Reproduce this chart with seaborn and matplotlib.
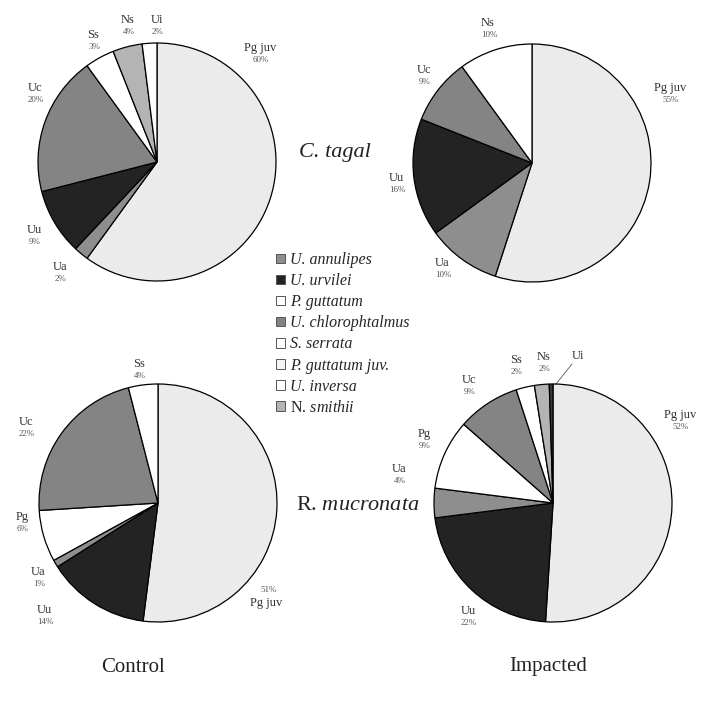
import matplotlib
matplotlib.use("Agg")
import matplotlib.pyplot as plt
from matplotlib.patches import Patch
import seaborn as sns

sns.set_style("white")
plt.rcParams["font.family"] = ["Liberation Serif", "DejaVu Serif"]
plt.rcParams["mathtext.fontset"] = "custom"
plt.rcParams["mathtext.rm"] = "Liberation Serif"
plt.rcParams["mathtext.it"] = "Liberation Serif:italic"

# C. tagal, control
tc_names = ["Pg juv", "Ua", "Uu", "Uc", "Ss", "Ns", "Ui"]
tc_values = [60, 2, 9, 19, 4, 4, 2]
tc_pct = ["60%", "2%", "9%", "20%", "3%", "4%", "2%"]

# C. tagal, impacted
ti_names = ["Pg juv", "Ua", "Uu", "Uc", "Ns"]
ti_values = [55, 10, 16, 9, 10]
ti_pct = ["55%", "10%", "16%", "9%", "10%"]

# R. mucronata, control
rc_names = ["Pg juv", "Uu", "Ua", "Pg", "Uc", "Ss"]
rc_values = [52, 14, 1, 7, 22, 4]
rc_pct = ["51%", "14%", "1%", "6%", "22%", "4%"]

# R. mucronata, impacted
ri_names = ["Pg juv", "Uu", "Ua", "Pg", "Uc", "Ss", "Ns", "Ui"]
ri_values = [51, 22, 4, 9.5, 8.5, 2.5, 2, 0.5]
ri_pct = ["52%", "22%", "4%", "9%", "9%", "2%", "2%", ""]

legend_labels = ["U. annulipes", "U. urvilei", "P. guttatum", "U. chlorophtalmus",
                 "S. serrata", "P. guttatum juv.", "U. inversa", r"$\mathrm{N.}\,\mathit{smithii}$"]

# ---- style / layout ----
W, H = 702, 704
R = 119
grey_a, grey_c, dark, light, ns_grey = "#8e8e8e", "#848484", "#232323", "#ebebeb", "#b4b4b4"
legend_colors = [grey_a, dark, "white", grey_c, "white", "#f4f4f4", "white", ns_grey]

pies = [
    dict(c=(157, 162), v=tc_values, n=tc_names, p=tc_pct,
         col=[light, grey_a, dark, grey_c, "white", ns_grey, "white"],
         pos=[(260, 48), (60, 267), (34, 230), (35, 88), (93, 35), (128, 20), (157, 20)]),
    dict(c=(532, 163), v=ti_values, n=ti_names, p=ti_pct,
         col=[light, grey_a, dark, grey_c, "white"],
         pos=[(670, 88), (442, 263), (396, 178), (424, 70), (488, 23)]),
    dict(c=(158, 503), v=rc_values, n=rc_names, p=rc_pct,
         col=[light, dark, grey_a, "white", grey_c, "white"],
         pos=[(266, 603), (44, 610), (38, 572), (22, 517), (26, 422), (139, 364)]),
    dict(c=(553, 503), v=ri_values, n=ri_names, p=ri_pct,
         col=[light, dark, grey_a, "white", grey_c, "white", ns_grey, "#3a3a3a"],
         pos=[(680, 415), (468, 611), (399, 469), (424, 434), (469, 380), (516, 360), (544, 357), (578, 356)]),
]

fig = plt.figure(figsize=(W / 100, H / 100), dpi=100)
bg = fig.add_axes([0, 0, 1, 1])
bg.set_xlim(0, W)
bg.set_ylim(H, 0)
bg.axis("off")

pad = 1.04
for k, pie in enumerate(pies):
    cx, cy = pie["c"]
    rr = R * pad
    ax = fig.add_axes([(cx - rr) / W, 1 - (cy + rr) / H, 2 * rr / W, 2 * rr / H])
    ax.pie(pie["v"], colors=pie["col"], startangle=90, counterclock=False,
           wedgeprops=dict(edgecolor="black", linewidth=0.9))
    ax.set_xlim(-pad, pad)
    ax.set_ylim(-pad, pad)
    ax.axis("off")
    for name, pct, (x, y) in zip(pie["n"], pie["p"], pie["pos"]):
        if k == 2 and name == "Pg juv":
            # percent above the name for this one
            bg.text(x + 3, y - 13, pct, ha="center", va="center", fontsize=6.5, color="#555")
            bg.text(x, y, name, ha="center", va="center", fontsize=9, color="#333")
            continue
        bg.text(x, y, name, ha="center", va="center", fontsize=9, color="#333")
        if pct:
            bg.text(x + 1, y + 12, pct, ha="center", va="center", fontsize=6.5, color="#555")

# leader line for Ui on the impacted R. mucronata pie
bg.plot([556, 572], [384, 364], color="#555", lw=0.6)

bg.text(335, 152, "C. tagal", ha="center", va="center", fontsize=16, style="italic", color="#222")
bg.text(358, 505, r"R. $\mathit{mucronata}$", ha="center", va="center", fontsize=16, color="#222")
bg.text(133, 667, "Control", ha="center", va="center", fontsize=15, color="#222")
bg.text(548, 667, "Impacted", ha="center", va="center", fontsize=15, color="#222")

handles = [Patch(facecolor=c, edgecolor="#555", linewidth=0.7, label=l)
           for c, l in zip(legend_colors, legend_labels)]
fig.legend(handles=handles, loc="upper left", bbox_to_anchor=(268 / W, 1 - 244 / H),
           frameon=False, prop=dict(style="italic", size=11.5), handlelength=0.55,
           handleheight=0.55, handletextpad=0.35, labelspacing=0.32, borderpad=0)

fig.savefig("out.png", dpi=100)
